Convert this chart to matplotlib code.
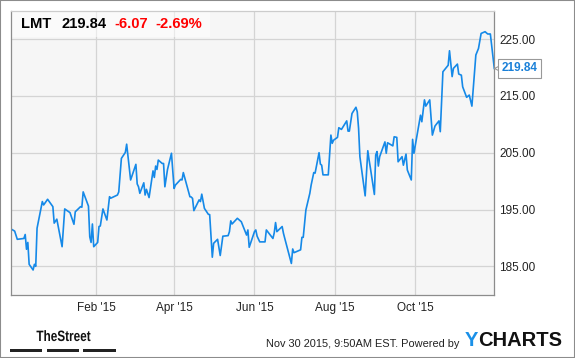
import matplotlib
matplotlib.use("Agg")
import matplotlib.pyplot as plt
import matplotlib.transforms as mtransforms
from matplotlib.patches import Rectangle, PathPatch
from matplotlib.textpath import TextPath
from matplotlib.font_manager import FontProperties
import pandas as pd

# Header values
TICKER = "LMT"
LAST_PRICE = "219.84"
CHANGE = "-6.07"
CHANGE_PCT = "-2.69%"
TIMESTAMP = "Nov 30 2015, 9:50AM EST. Powered by"

# Daily closes (Nov 2014 - Nov 2015)
dates = [
    "2014-11-28", "2014-12-01", "2014-12-03", "2014-12-08", "2014-12-09", "2014-12-10",
    "2014-12-11", "2014-12-12", "2014-12-15", "2014-12-16", "2014-12-17", "2014-12-18",
    "2014-12-22", "2014-12-23", "2014-12-26", "2014-12-30", "2014-12-31",
    "2015-01-02", "2015-01-06", "2015-01-08", "2015-01-12", "2015-01-15", "2015-01-16",
    "2015-01-20", "2015-01-21", "2015-01-22", "2015-01-26", "2015-01-27", "2015-01-28",
    "2015-01-29", "2015-01-30",
    "2015-02-02", "2015-02-03", "2015-02-04", "2015-02-06", "2015-02-09", "2015-02-11",
    "2015-02-12", "2015-02-17", "2015-02-18", "2015-02-20", "2015-02-23", "2015-02-24",
    "2015-02-27",
    "2015-03-03", "2015-03-04", "2015-03-05", "2015-03-06", "2015-03-09", "2015-03-10",
    "2015-03-11", "2015-03-13", "2015-03-16", "2015-03-17", "2015-03-18", "2015-03-19",
    "2015-03-20", "2015-03-23", "2015-03-24", "2015-03-25", "2015-03-27", "2015-03-30",
    "2015-04-01", "2015-04-02", "2015-04-06", "2015-04-07", "2015-04-08", "2015-04-13",
    "2015-04-14", "2015-04-15", "2015-04-16", "2015-04-20", "2015-04-21", "2015-04-22",
    "2015-04-24", "2015-04-27", "2015-04-28", "2015-04-30",
    "2015-05-01", "2015-05-04", "2015-05-06", "2015-05-08", "2015-05-12", "2015-05-13",
    "2015-05-14", "2015-05-15", "2015-05-19", "2015-05-22", "2015-05-26", "2015-05-27",
    "2015-05-28",
    "2015-06-01", "2015-06-02", "2015-06-03", "2015-06-05", "2015-06-09", "2015-06-10",
    "2015-06-15", "2015-06-16", "2015-06-17", "2015-06-18", "2015-06-22", "2015-06-23",
    "2015-06-24", "2015-06-29", "2015-06-30",
    "2015-07-01", "2015-07-06", "2015-07-07", "2015-07-08", "2015-07-10", "2015-07-13",
    "2015-07-14", "2015-07-16", "2015-07-17", "2015-07-20", "2015-07-21", "2015-07-22",
    "2015-07-23", "2015-07-27", "2015-07-29", "2015-07-30", "2015-07-31",
    "2015-08-03", "2015-08-04", "2015-08-06", "2015-08-10", "2015-08-11", "2015-08-12",
    "2015-08-14", "2015-08-17", "2015-08-18", "2015-08-19", "2015-08-20", "2015-08-24",
    "2015-08-26", "2015-08-27", "2015-08-28", "2015-08-31",
    "2015-09-01", "2015-09-02", "2015-09-03", "2015-09-04", "2015-09-08", "2015-09-09",
    "2015-09-10", "2015-09-14", "2015-09-15", "2015-09-17", "2015-09-18", "2015-09-21",
    "2015-09-22", "2015-09-24", "2015-09-25", "2015-09-28", "2015-09-29", "2015-09-30",
    "2015-10-05", "2015-10-06", "2015-10-08", "2015-10-09", "2015-10-12", "2015-10-14",
    "2015-10-16", "2015-10-19", "2015-10-20", "2015-10-22", "2015-10-26", "2015-10-27",
    "2015-10-29", "2015-10-30",
    "2015-11-02", "2015-11-03", "2015-11-05", "2015-11-06", "2015-11-09", "2015-11-11",
    "2015-11-13", "2015-11-16", "2015-11-18", "2015-11-20", "2015-11-23", "2015-11-25",
    "2015-11-27", "2015-11-30",
]

closes = [
    191.6, 191.2, 189.75, 189.9, 190.6, 188.0,
    189.2, 185.35, 184.35, 185.35, 185.0, 191.7,
    196.4, 195.8, 196.8, 195.5, 192.6,
    193.3, 188.45, 195.1, 194.45, 192.4, 194.6,
    195.5, 195.4, 198.1, 195.6, 190.2, 189.2,
    192.45, 188.45,
    189.2, 192.0, 192.1, 195.1, 193.15, 197.25,
    197.0, 197.55, 198.1, 204.0, 205.05, 206.5,
    200.2,
    202.95, 199.5, 199.0, 197.85, 199.7, 197.55,
    198.55, 197.1, 201.8, 200.65, 202.65, 202.05,
    203.7, 203.1, 203.1, 199.0, 202.05, 204.9,
    198.7, 199.3, 200.3, 200.2, 201.5, 197.25,
    197.2, 196.95, 194.8, 196.7, 196.4, 197.7,
    195.2, 194.15, 194.1, 186.6,
    189.05, 189.75, 186.9, 190.3, 190.4, 191.1,
    193.0, 192.45, 193.45, 192.85, 190.5, 191.4,
    188.35,
    191.1, 191.4, 190.3, 189.3, 189.3, 191.4,
    189.9, 190.9, 192.7, 191.1, 192.0, 190.8,
    189.9, 185.5, 188.05,
    187.4, 187.9, 190.1, 190.1, 194.9, 197.85,
    199.3, 201.5, 201.4, 205.0, 203.0, 202.8,
    201.1, 201.1, 208.1, 206.65, 207.2,
    207.7, 209.4, 209.1, 210.6, 208.8, 208.8,
    211.9, 213.0, 212.2, 209.3, 204.3, 197.4,
    205.35, 203.7, 202.25, 197.65,
    204.6, 205.2, 202.65, 204.3, 206.9, 204.9,
    206.75, 206.2, 207.8, 207.7, 203.4, 204.3,
    202.8, 204.75, 201.95, 200.2, 207.35, 204.9,
    211.6, 210.45, 214.3, 213.2, 214.3, 208.1,
    209.7, 210.6, 208.7, 219.25, 220.4, 222.95,
    218.4, 219.85,
    220.6, 218.85, 218.65, 216.6, 214.75, 215.15,
    213.2, 222.2, 223.35, 226.0, 226.3, 225.9,
    225.9, 219.84,
]

y_ticks = [185, 195, 205, 215, 225]
x_tick_dates = ["2015-02-01", "2015-04-01", "2015-06-01", "2015-08-01", "2015-10-01"]
x_tick_labels = ["Feb '15", "Apr '15", "Jun '15", "Aug '15", "Oct '15"]
x_range = ["2014-11-28", "2015-11-30"]
y_range = [180, 230]

LINE_BLUE = "#1589e8"
W, H = 575, 358


def fx(px):
    return px / W


def fy(py):
    return 1 - py / H


plt.rcParams["font.family"] = ["Liberation Sans", "DejaVu Sans"]

fig = plt.figure(figsize=(W / 100, H / 100), dpi=100)
fig.patch.set_facecolor("white")

left, right, top, bottom = 10.7, 494.3, 10.7, 294.7
ax = fig.add_axes([fx(left), fy(bottom), fx(right) - fx(left), fy(top) - fy(bottom)])
ax.set_facecolor("#f6f6f6")

x = pd.to_datetime(dates)
ax.plot(x, closes, color=LINE_BLUE, linewidth=1.2, zorder=2, solid_joinstyle="round")

ax.set_xlim(pd.to_datetime(x_range[0]), pd.to_datetime(x_range[1]))
ax.set_ylim(*y_range)

ax.set_xticks(pd.to_datetime(x_tick_dates))
ax.set_xticklabels(x_tick_labels)
ax.set_yticks(y_ticks)
ax.set_yticklabels([f"{v:.2f}" for v in y_ticks])
ax.yaxis.tick_right()
ax.tick_params(axis="both", length=0, labelsize=8.5, colors="#222222")
ax.tick_params(axis="y", pad=3.5)
ax.tick_params(axis="x", pad=5)

ax.set_axisbelow(True)
ax.grid(True, color="#d4d4d4", linewidth=0.9)
for side in ["left", "bottom", "right"]:
    ax.spines[side].set_color("#8c8c8c")
    ax.spines[side].set_linewidth(0.9)
ax.spines["top"].set_color("#cccccc")
ax.spines["top"].set_linewidth(0.9)

# header band behind the ticker text
ax.add_patch(Rectangle((fx(11), fy(37)), fx(210) - fx(11), fy(11) - fy(37),
                       transform=fig.transFigure, facecolor="white", alpha=0.5,
                       edgecolor="none", zorder=1.5))

title_y = fy(24)
fig.text(fx(21), title_y, TICKER, fontsize=10.6, fontweight="bold", color="black", va="center")
fig.text(fx(61), title_y, LAST_PRICE, fontsize=10.6, fontweight="bold", color="black", va="center")
fig.text(fx(114), title_y, CHANGE, fontsize=10.6, fontweight="bold", color="#ff0000", va="center")
fig.text(fx(155), title_y, CHANGE_PCT, fontsize=10.6, fontweight="bold", color="#ff0000", va="center")

# last value flag on the right axis
blend = mtransforms.blended_transform_factory(ax.transAxes, ax.transData)
ax.plot([1.0097], [closes[-1]], transform=blend, marker="<", markersize=7,
        markerfacecolor="white", markeredgecolor="#999999", markeredgewidth=0.8,
        clip_on=False, zorder=4)
ax.text(1.0155, closes[-1], f"{closes[-1]:.2f}", transform=blend, fontsize=8.5,
        fontweight="bold", color="#1a80d8", va="center", ha="left", zorder=5,
        bbox=dict(boxstyle="square,pad=0.28", facecolor="white", edgecolor="#999999",
                  linewidth=0.8), clip_on=False)

# footer: condensed "TheStreet" logo text drawn as a squeezed text path
logo = TextPath((0, 0), "TheStreet", size=15,
                prop=FontProperties(family="Liberation Sans", weight="bold"))
logo_box = logo.get_extents()
sx = 54.0 / logo_box.width
logo_tf = mtransforms.Affine2D().translate(-logo_box.x0, 0).scale(sx, 1.0) \
    .translate(36.5, H - 341.0)
fig.patches.append(PathPatch(logo, transform=logo_tf, facecolor="#111111",
                             edgecolor="none"))
for x0, x1 in [(10, 42), (47, 79), (83, 116)]:
    fig.patches.append(Rectangle((fx(x0), fy(351.5)), fx(x1) - fx(x0), fy(348.5) - fy(351.5),
                                 transform=fig.transFigure, facecolor="#222222",
                                 edgecolor="none"))

fig.text(fx(459), fy(344), TIMESTAMP, fontsize=7.9, color="#222222", ha="right", va="center")
fig.text(fx(478.5), fy(340), "Y", fontsize=14.5, fontweight="bold", color="#1a90e8",
         ha="right", va="center")
fig.text(fx(478.5), fy(340), "CHARTS", fontsize=14.5, fontweight="bold", color="#111111",
         ha="left", va="center")

# outer frame
fig.patches.append(Rectangle((0, 0), 1, 1, transform=fig.transFigure, fill=False,
                             edgecolor="#8c8c8c", linewidth=1.5))

fig.savefig("out.png", dpi=100)
